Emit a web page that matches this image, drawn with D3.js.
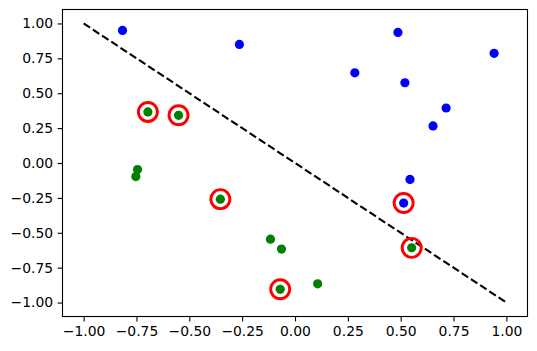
<!DOCTYPE html>
<html>
<head>
<meta charset="utf-8">
<script src="https://cdn.jsdelivr.net/npm/d3@7"></script>
<style>
  body { margin: 0; background: #fff; }
  text { font-family: "DejaVu Sans", sans-serif; }
</style>
</head>
<body>
<div id="vis"></div>
<script>
// class +1 points (blue)
const blueX = [-0.816, -0.263, 0.487, 0.942, 0.283, 0.520, 0.715, 0.653, 0.544, 0.514];
const blueY = [0.950, 0.850, 0.936, 0.786, 0.646, 0.575, 0.394, 0.266, -0.118, -0.287];
// class -1 points (green)
const greenX = [-0.696, -0.551, -0.745, -0.753, -0.353, -0.116, -0.064, -0.070, 0.107, 0.552];
const greenY = [0.366, 0.342, -0.047, -0.097, -0.259, -0.546, -0.617, -0.905, -0.866, -0.608];
// highlighted (circled) points
const ringX = [-0.696, -0.551, -0.353, -0.070, 0.552, 0.514];
const ringY = [0.366, 0.342, -0.259, -0.905, -0.608, -0.287];
// separating line
const lineX = [-1, 1];
const lineY = [1, -1];
const ticks = [-1.0, -0.75, -0.5, -0.25, 0.0, 0.25, 0.5, 0.75, 1.0];

const W = 537, H = 351;
const m = { left: 62.5, top: 9.5, right: 527.5, bottom: 316.5 };

const svg = d3.select("#vis").append("svg")
    .attr("width", W)
    .attr("height", H);

const x = d3.scaleLinear().domain([-1.1, 1.1]).range([m.left, m.right]);
const y = d3.scaleLinear().domain([-1.1, 1.1]).range([m.bottom, m.top]);

const fmt = d3.format(".2f");

const xAxis = svg.append("g")
    .attr("transform", `translate(0,${m.bottom})`)
    .call(d3.axisBottom(x).tickValues(ticks).tickFormat(fmt).tickSize(4.9).tickPadding(4.5).tickSizeOuter(0));
const yAxis = svg.append("g")
    .attr("transform", `translate(${m.left},0)`)
    .call(d3.axisLeft(y).tickValues(ticks).tickFormat(fmt).tickSize(4.9).tickPadding(4.5).tickSizeOuter(0));

[xAxis, yAxis].forEach(a => {
    a.select(".domain").remove();
    a.selectAll(".tick line").attr("stroke", "#000").attr("stroke-width", 1.1);
    a.selectAll(".tick text").attr("fill", "#000").style("font-size", "13.9px")
        .style("font-family", "'DejaVu Sans', sans-serif");
});

// frame
svg.append("rect")
    .attr("x", m.left).attr("y", m.top)
    .attr("width", m.right - m.left).attr("height", m.bottom - m.top)
    .attr("fill", "none").attr("stroke", "#000").attr("stroke-width", 1.1);

// dashed line
svg.append("path")
    .datum(d3.zip(lineX, lineY))
    .attr("d", d3.line().x(d => x(d[0])).y(d => y(d[1])))
    .attr("fill", "none").attr("stroke", "#000")
    .attr("stroke-width", 2.1)
    .attr("stroke-dasharray", "7.7,3.35");

const dots = (xs, ys, color) => svg.append("g").selectAll("circle")
    .data(d3.zip(xs, ys))
    .enter().append("circle")
    .attr("cx", d => x(d[0]))
    .attr("cy", d => y(d[1]))
    .attr("r", 4.6)
    .attr("fill", color);

dots(blueX, blueY, "#0000ff");
dots(greenX, greenY, "#008000");

svg.append("g").selectAll("circle")
    .data(d3.zip(ringX, ringY))
    .enter().append("circle")
    .attr("cx", d => x(d[0]))
    .attr("cy", d => y(d[1]))
    .attr("r", 9.5)
    .attr("fill", "none")
    .attr("stroke", "#ff0000")
    .attr("stroke-width", 2.9);
</script>
</body>
</html>
